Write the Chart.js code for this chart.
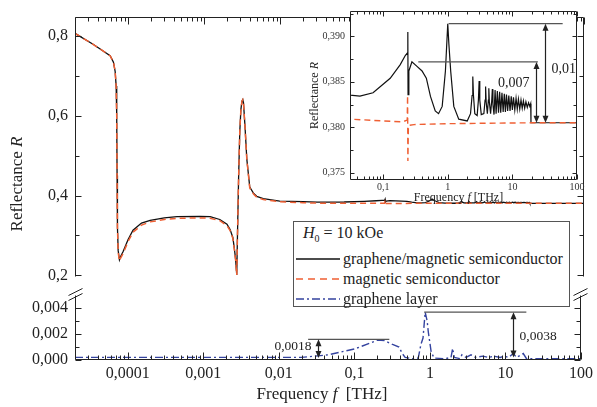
<!DOCTYPE html>
<html lang="en">
<head>
<meta charset="UTF-8" />
<title>Reflectance vs frequency</title>
<script src="https://cdn.jsdelivr.net/npm/chart.js"></script>
<style>
  body { margin: 0; background: #fff; }
  #wrap { position: relative; width: 597px; height: 407px; overflow: hidden; font-family: "Liberation Serif", "Times New Roman", serif; color: #222; }
  canvas { position: absolute; }
  #legend { position: absolute; left: 293px; top: 221px; width: 275px; height: 84px; border: 1px solid #555; background: #fff; font-size: 16px; }
  #legend .row { position: absolute; left: 0; height: 20px; line-height: 20px; white-space: nowrap; }
  #legend svg { position: absolute; left: 2px; top: 4px; }
  #legend span { position: absolute; left: 49px; }
</style>
</head>
<body>
<div id="wrap">
  <canvas id="upper" width="597" height="292" style="left:0;top:0"></canvas>
  <canvas id="lower" width="597" height="127" style="left:0;top:280px"></canvas>
  <canvas id="inset" width="290" height="205" style="left:300px;top:0"></canvas>
  <div id="legend">
    <div class="row" style="top:1px;left:9px"><i>H</i><sub style="font-size:10px">0</sub> = 10 kOe</div>
    <div class="row" style="top:27px;width:270px"><svg width="44" height="12"><line x1="0" y1="6" x2="44" y2="6" stroke="#111" stroke-width="1.4"/></svg><span>graphene/magnetic semiconductor</span></div>
    <div class="row" style="top:47px;width:270px"><svg width="44" height="12"><line x1="0" y1="6" x2="44" y2="6" stroke="#ef5f33" stroke-width="1.4" stroke-dasharray="7 5"/></svg><span>magnetic semiconductor</span></div>
    <div class="row" style="top:67px;width:270px"><svg width="44" height="12"><line x1="0" y1="6" x2="44" y2="6" stroke="#34439f" stroke-width="1.4" stroke-dasharray="8 3 2 3"/></svg><span>graphene layer</span></div>
  </div>
</div>
<script>
// axis ticks
const freqTicks = [1e-4, 1e-3, 1e-2, 1e-1, 1, 10, 100];
const freqTickLabels = ['0,0001', '0,001', '0,01', '0,1', '1', '10', '100'];
const upperTicks = [0.2, 0.4, 0.6, 0.8];
const upperTickLabels = ['0,2', '0,4', '0,6', '0,8'];
const lowerTicks = [0, 0.002, 0.004];
const lowerTickLabels = ['0,000', '0,002', '0,004'];
const insetFreqTicks = [0.1, 1, 10, 100];
const insetFreqTickLabels = ['0,1', '1', '10', '100'];
const insetTicks = [0.375, 0.38, 0.385, 0.39];
const insetTickLabels = ['0,375', '0,380', '0,385', '0,390'];

// graphene / magnetic semiconductor (THz, R)
const blackFreq = [2.0e-5, 3.5e-5, 5.8e-5, 6.41e-5, 6.75e-5, 6.96e-5, 7.08e-5, 7.16e-5, 7.24e-5, 7.4e-5, 7.69e-5, 8.0e-5, 8.6e-5,
  1.0e-4, 1.16e-4, 1.5e-4, 1.95e-4, 3.0e-4, 4.4e-4, 8.8e-4, 1.2e-3, 1.61e-3, 2.0e-3, 2.2e-3, 2.39e-3, 2.5e-3, 2.6e-3, 2.69e-3,
  2.75e-3, 2.85e-3, 2.95e-3, 3.05e-3, 3.15e-3, 3.23e-3, 3.3e-3, 3.45e-3, 3.65e-3, 3.99e-3, 4.5e-3, 4.93e-3, 6.0e-3, 9.9e-3, 0.02,
  0.0307, 0.0438, 0.0698, 0.1286, 0.184, 0.22, 0.238, 0.241, 0.243, 0.25, 0.279, 0.334, 0.40, 0.466, 0.54, 0.64, 0.72, 0.82,
  0.92, 0.97, 1.0, 1.04, 1.11, 1.24, 1.48, 2.0, 2.25, 2.38, 2.44, 2.5, 2.62, 2.85, 2.98, 3.06, 3.13, 3.3, 3.62, 3.78, 3.85,
  3.93, 4.1, 4.25, 4.32, 4.4, 4.6, 4.8, 4.9, 5.0, 5.2, 5.4, 5.6, 5.85, 6.1, 6.35, 6.6, 6.9, 7.2, 7.5, 7.8, 8.1, 8.45, 8.8,
  9.2, 9.6, 10.0, 10.4, 10.9, 11.4, 11.9, 12.4, 13.0, 13.6, 14.2, 14.8, 15.5, 16.2, 17.0, 17.8, 18.6, 19.2, 19.4, 100];
const blackR = [0.806, 0.778, 0.750, 0.734, 0.711, 0.674, 0.60, 0.45, 0.32, 0.262, 0.239, 0.248, 0.260,
  0.290, 0.313, 0.331, 0.338, 0.344, 0.347, 0.348, 0.347, 0.340, 0.328, 0.315, 0.295, 0.268, 0.240, 0.201,
  0.30, 0.45, 0.56, 0.615, 0.636, 0.640, 0.632, 0.575, 0.491, 0.421, 0.405, 0.398, 0.392, 0.386, 0.3845,
  0.38355, 0.38344, 0.3838, 0.3854, 0.3869, 0.3879, 0.3882, 0.3905, 0.3836, 0.3862, 0.3872, 0.3867, 0.3862, 0.3854, 0.3834, 0.3818, 0.3815, 0.3823,
  0.3862, 0.3895, 0.3914, 0.3892, 0.3862, 0.3823, 0.3809, 0.3807, 0.3815, 0.3835, 0.3856, 0.3835, 0.3815, 0.3813, 0.3830, 0.3851, 0.3830, 0.3814, 0.3815, 0.3830, 0.3845,
  0.3828, 0.3815, 0.3830, 0.3843, 0.3828, 0.3815, 0.3830, 0.3842, 0.3825, 0.3814, 0.3841, 0.3815, 0.3840, 0.3816, 0.3839, 0.3816, 0.3838, 0.3817, 0.3837, 0.3817, 0.3836, 0.3818, 0.3835,
  0.3818, 0.3834, 0.3819, 0.3833, 0.3819, 0.3832, 0.3820, 0.3831, 0.3820, 0.3830, 0.3821, 0.3829, 0.3821, 0.3828, 0.3822, 0.3827, 0.3823, 0.3826, 0.3805, 0.3805];

// magnetic semiconductor
const redFreq = [2.0e-5, 3.5e-5, 5.8e-5, 6.41e-5, 6.75e-5, 6.96e-5, 7.08e-5, 7.16e-5, 7.24e-5, 7.4e-5, 7.69e-5, 8.0e-5, 8.6e-5,
  1.0e-4, 1.16e-4, 1.5e-4, 1.95e-4, 3.0e-4, 4.4e-4, 8.8e-4, 1.2e-3, 1.61e-3, 2.0e-3, 2.2e-3, 2.39e-3, 2.5e-3, 2.6e-3, 2.69e-3,
  2.75e-3, 2.85e-3, 2.95e-3, 3.05e-3, 3.15e-3, 3.23e-3, 3.3e-3, 3.45e-3, 3.65e-3, 3.99e-3, 4.5e-3, 4.93e-3, 6.0e-3, 9.9e-3, 0.02,
  0.0307, 0.1, 0.2, 0.236, 0.239, 0.2415, 0.246, 0.3, 1, 20, 100];
const redR = [0.806, 0.778, 0.750, 0.734, 0.711, 0.674, 0.60, 0.45, 0.32, 0.258, 0.236, 0.244, 0.255,
  0.285, 0.308, 0.326, 0.334, 0.340, 0.343, 0.344, 0.343, 0.337, 0.325, 0.312, 0.293, 0.266, 0.238, 0.201,
  0.30, 0.45, 0.56, 0.615, 0.636, 0.640, 0.632, 0.575, 0.491, 0.419, 0.403, 0.396, 0.390, 0.3845, 0.382,
  0.3809, 0.3807, 0.3806, 0.3808, 0.3835, 0.3763, 0.3802, 0.3803, 0.3804, 0.3805, 0.3805];

// graphene layer
const blueFreq = [2.0e-5, 0.02, 0.045, 0.10, 0.16, 0.203, 0.25, 0.32, 0.39, 0.43, 0.47, 0.58, 0.70, 0.76, 0.81, 0.865, 0.92,
  0.95, 1.04, 1.14, 1.6, 1.9, 2.0, 2.1, 2.5, 2.65, 3.0, 3.5, 4.0, 5.0, 6.0, 7.0, 8.5, 9.7, 11, 12.7, 14, 17.2, 19, 100];
const blueR = [0.0002, 0.0002, 0.0004, 0.00085, 0.0013, 0.00154, 0.0015, 0.0012, 0.001, 0.0005, 0.0002, 0.0001, 0.00015, 0.0012, 0.0017, 0.0037, 0.0030,
  0.0022, 0.0006, 0.00015, 0.0001, 0.0002, 0.0009, 0.0002, 0.0001, 0.0004, 0.0002, 0.0004, 0.0002, 0.0003, 0.0002, 0.0003, 0.0002, 0.0003, 0.0002, 0.0005, 0.0002, 0.0005, 0.0001, 0.0001];

// difference markers
const lowerGaps = [
  { label: '0,0018', level: 0.0016, from: 0.0244, to: 0.29, at: 0.033, base: 0.00015, labelY: 0.00102, side: 'left' },
  { label: '0,0038', level: 0.0037, from: 0.84, to: 18.9, at: 12.7, base: 0.0002, labelY: 0.00185, side: 'right' }
];
const insetGaps = [
  { label: '0,007', level: 0.3872, from: 0.35, to: 24.8, at: 23, base: 0.3805, labelY: 0.38486, side: 'left' },
  { label: '0,01', level: 0.3914, from: 1.03, to: 60, at: 31.6, base: 0.3805, labelY: 0.38639, side: 'right' }
];

const BLACK = '#111', RED = '#ef5f33', BLUE = '#34439f';
const serif = '"Liberation Serif", "Times New Roman", serif';

function xy(fs, rs) { return fs.map((f, i) => ({ x: f, y: rs[i] })); }
function fixedTicks(values) { return s => { s.ticks = values.map(v => ({ value: v })); }; }

function drawParts(ctx, parts, size, x, y, rotate) {
  ctx.save();
  ctx.translate(x, y);
  if (rotate) ctx.rotate(-Math.PI / 2);
  const fonts = parts.map(p => (p[1] ? 'italic ' : '') + size + 'px ' + serif);
  let total = 0;
  const widths = parts.map((p, i) => { ctx.font = fonts[i]; const w = ctx.measureText(p[0]).width; total += w; return w; });
  let cx = -total / 2;
  ctx.textBaseline = 'middle'; ctx.textAlign = 'left'; ctx.fillStyle = '#222';
  parts.forEach((p, i) => { ctx.font = fonts[i]; ctx.fillText(p[0], cx, 0); cx += widths[i]; });
  ctx.restore();
}

function arrowHead(ctx, px, tip, dir) {
  ctx.beginPath();
  ctx.moveTo(px, tip);
  ctx.lineTo(px - 3, tip - dir * 7);
  ctx.lineTo(px + 3, tip - dir * 7);
  ctx.closePath();
  ctx.fill();
}

const decor = {
  id: 'decor',
  beforeDraw(chart, args, o) {
    if (!o.fill) return;
    const a = chart.chartArea, ctx = chart.ctx;
    ctx.save(); ctx.fillStyle = '#fff';
    ctx.fillRect(a.left, a.top, a.right - a.left, a.bottom - a.top);
    ctx.restore();
  },
  afterDraw(chart, args, o) {
    const { ctx, chartArea: a, scales: { x, y } } = chart;
    const L = Math.round(a.left) + 0.5, R = Math.round(a.right) - 0.5, T = Math.round(a.top) + 0.5, B = Math.round(a.bottom) - 0.5;
    ctx.save();
    ctx.strokeStyle = '#222'; ctx.lineWidth = 1;
    ctx.beginPath();
    ctx.moveTo(L, T - (o.extTop || 0)); ctx.lineTo(L, B + (o.extBottom || 0));
    ctx.moveTo(R, T - (o.extTop || 0)); ctx.lineTo(R, B + (o.extBottom || 0));
    if (o.sides.includes('t')) { ctx.moveTo(L, T); ctx.lineTo(R, T); }
    if (o.sides.includes('b')) { ctx.moveTo(L, B); ctx.lineTo(R, B); }
    const lo = Math.floor(Math.log10(x.min)), hi = Math.ceil(Math.log10(x.max));
    for (let e = lo; e <= hi; e++) {
      for (let k = 1; k < 10; k++) {
        const v = k * Math.pow(10, e);
        if (v < x.min * 0.999 || v > x.max * 1.001) continue;
        const px = Math.round(x.getPixelForValue(v)) + 0.5, len = k === 1 ? o.xMajor : o.xMinor;
        if (o.sides.includes('b')) { ctx.moveTo(px, B); ctx.lineTo(px, B - len); }
        if (o.sides.includes('t')) { ctx.moveTo(px, T); ctx.lineTo(px, T + len); }
      }
    }
    for (let i = 0; i < 100; i++) {
      const v = o.yStart + i * o.yStep;
      if (v > y.max + 1e-9) break;
      if (v < y.min - 1e-9) continue;
      const py = Math.round(y.getPixelForValue(v)) + 0.5, len = i % o.yEvery === 0 ? o.yMajor : o.yMinor;
      ctx.moveTo(L, py); ctx.lineTo(L + len, py);
      ctx.moveTo(R, py); ctx.lineTo(R - len, py);
    }
    ctx.stroke();

    if (o.breakMarks) {
      ctx.beginPath();
      [L, R].forEach(X => {
        ctx.moveTo(X - 7, T - 2); ctx.lineTo(X + 7, T - 9);
        ctx.moveTo(X - 7, T + 3); ctx.lineTo(X + 7, T - 4);
      });
      ctx.stroke();
    }

    (o.gaps || []).forEach(g => {
      const yTop = y.getPixelForValue(g.level), yBase = y.getPixelForValue(g.base);
      ctx.strokeStyle = '#555'; ctx.lineWidth = 1.3;
      ctx.beginPath();
      ctx.moveTo(x.getPixelForValue(g.from), yTop); ctx.lineTo(x.getPixelForValue(g.to), yTop);
      ctx.stroke();
      const px = Math.round(x.getPixelForValue(g.at)) + 0.5;
      ctx.strokeStyle = '#222'; ctx.fillStyle = '#222'; ctx.lineWidth = 1.2;
      ctx.beginPath(); ctx.moveTo(px, yTop + 4); ctx.lineTo(px, yBase - 4); ctx.stroke();
      arrowHead(ctx, px, yTop, -1);
      arrowHead(ctx, px, yBase, 1);
      ctx.font = o.gapFont + 'px ' + serif;
      ctx.textBaseline = 'middle';
      ctx.textAlign = g.side === 'left' ? 'right' : 'left';
      ctx.fillText(g.label, g.side === 'left' ? px - 7 : px + 6, y.getPixelForValue(g.labelY));
    });

    if (o.yTitle) drawParts(ctx, o.yTitle.parts, o.yTitle.size, a.left + o.yTitle.dx, o.yTitle.cy || (a.top + a.bottom) / 2, true);
    if (o.xTitle) drawParts(ctx, o.xTitle.parts, o.xTitle.size, (a.left + a.right) / 2 + (o.xTitle.dx || 0), a.bottom + o.xTitle.dy, false);
    ctx.restore();
  }
};

const baseOptions = () => ({
  responsive: false, animation: false, devicePixelRatio: 1,
  elements: { point: { radius: 0 }, line: { tension: 0 } },
  plugins: { legend: { display: false }, tooltip: { enabled: false } }
});
const noGrid = { grid: { display: false, drawTicks: false }, border: { display: false } };

// upper panel
const upperOpts = baseOptions();
upperOpts.layout = { padding: { top: 6, right: 13, bottom: 3, left: 0 } };
upperOpts.plugins.decor = { sides: 'lrt', extBottom: 2, xMajor: 7, xMinor: 4, yStart: 0.2, yStep: 0.1, yEvery: 2, yMajor: 6, yMinor: 4,
  yTitle: { parts: [['Reflectance ', false], ['R', true]], size: 17, dx: -57, cy: 184 } };
upperOpts.scales = {
  x: { type: 'logarithmic', min: 2e-5, max: 100, display: false },
  y: { min: 0.2, max: 0.848, afterFit: s => { s.width = 75; }, afterBuildTicks: fixedTicks(upperTicks), ...noGrid,
    ticks: { padding: 7, color: '#222', font: { family: serif, size: 16 }, callback: (v, i) => upperTickLabels[i] } }
};
new Chart(document.getElementById('upper'), {
  type: 'line',
  data: { datasets: [
    { data: xy(redFreq, redR), borderColor: RED, borderWidth: 1.5, borderDash: [6, 4], order: 1 },
    { data: xy(blackFreq, blackR), borderColor: BLACK, borderWidth: 1.3, order: 2 }
  ] },
  options: upperOpts,
  plugins: [decor]
});

// lower panel
const lowerOpts = baseOptions();
lowerOpts.layout = { padding: { top: 16, right: 13, bottom: 0, left: 0 } };
lowerOpts.plugins.decor = { sides: 'lrb', extTop: 2, breakMarks: true, xMajor: 7, xMinor: 4, yStart: 0, yStep: 0.001, yEvery: 2, yMajor: 6, yMinor: 4,
  gaps: lowerGaps, gapFont: 13.5,
  xTitle: { parts: [['Frequency ', false], ['f', true], ['  [THz]', false]], size: 17, dx: -6, dy: 35 } };
lowerOpts.scales = {
  x: { type: 'logarithmic', min: 2e-5, max: 100, afterFit: s => { s.height = 47; }, afterBuildTicks: fixedTicks(freqTicks), ...noGrid,
    ticks: { padding: 4, maxRotation: 0, autoSkip: false, color: '#222', font: { family: serif, size: 16 }, callback: (v, i) => freqTickLabels[i] } },
  y: { min: 0, max: 0.0049, afterFit: s => { s.width = 75; }, afterBuildTicks: fixedTicks(lowerTicks), ...noGrid,
    ticks: { padding: 7, color: '#222', font: { family: serif, size: 16 }, callback: (v, i) => lowerTickLabels[i] } }
};
new Chart(document.getElementById('lower'), {
  type: 'line',
  data: { datasets: [
    { data: xy(blueFreq, blueR), borderColor: BLUE, borderWidth: 1.4, borderDash: [8, 3, 2, 3] }
  ] },
  options: lowerOpts,
  plugins: [decor]
});

// inset
const insetOpts = baseOptions();
insetOpts.layout = { padding: { top: 9, right: 13, bottom: 0, left: 0 } };
insetOpts.plugins.decor = { fill: true, sides: 'lrtb', xMajor: 5, xMinor: 3, yStart: 0.375, yStep: 0.0025, yEvery: 2, yMajor: 4, yMinor: 3,
  gaps: insetGaps, gapFont: 14,
  yTitle: { parts: [['Reflectance ', false], ['R', true]], size: 12, dx: -35 },
  xTitle: { parts: [['Frequency ', false], ['f', true], [' [THz]', false]], size: 12, dx: -5, dy: 18 } };
insetOpts.scales = {
  x: { type: 'logarithmic', min: 0.0307, max: 100, afterFit: s => { s.height = 25; }, afterBuildTicks: fixedTicks(insetFreqTicks), ...noGrid,
    ticks: { padding: 1, maxRotation: 0, autoSkip: false, color: '#333', font: { family: serif, size: 10 }, callback: (v, i) => insetFreqTickLabels[i] } },
  y: { min: 0.3742, max: 0.3928, afterFit: s => { s.width = 50; }, afterBuildTicks: fixedTicks(insetTicks), ...noGrid,
    ticks: { padding: 5, color: '#333', font: { family: serif, size: 10 }, callback: (v, i) => insetTickLabels[i] } }
};
new Chart(document.getElementById('inset'), {
  type: 'line',
  data: { datasets: [
    { data: xy(redFreq, redR), borderColor: RED, borderWidth: 1.4, borderDash: [6, 4], order: 1 },
    { data: xy(blackFreq, blackR), borderColor: BLACK, borderWidth: 1.2, order: 2 }
  ] },
  options: insetOpts,
  plugins: [decor]
});
</script>
</body>
</html>
